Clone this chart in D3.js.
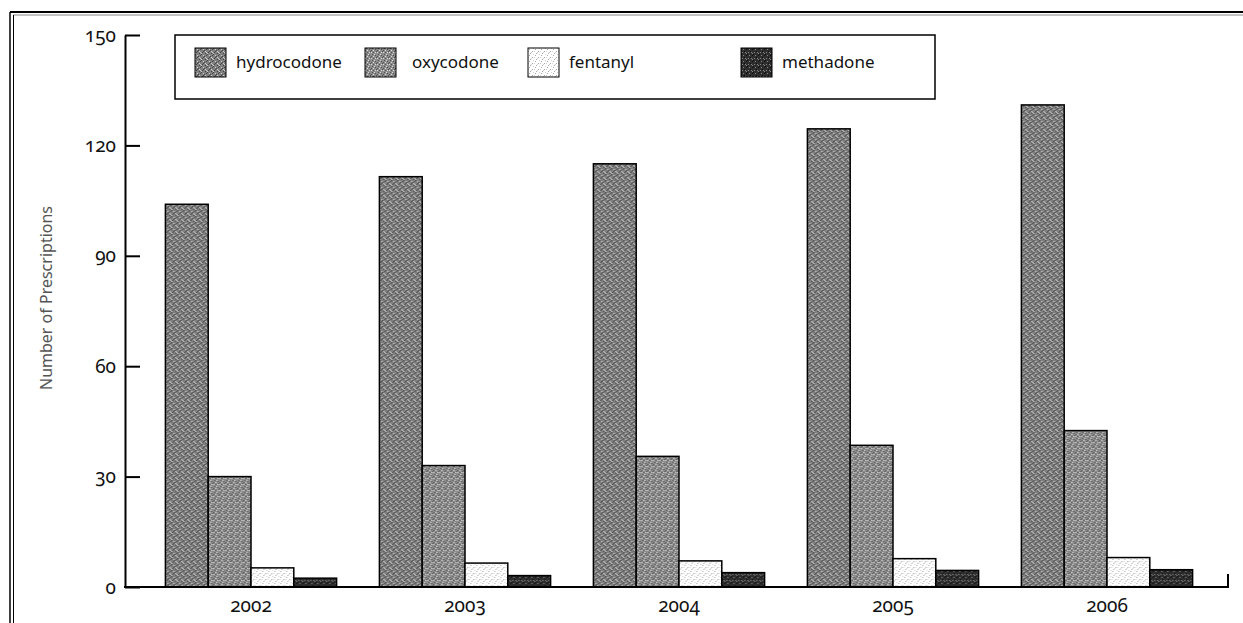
<!DOCTYPE html>
<html>
<head>
<meta charset="utf-8">
<script src="https://cdn.jsdelivr.net/npm/d3@7"></script>
<style>
  body { margin: 0; background: #fff; }
  svg text { font-family: "Noto Sans", "Open Sans", sans-serif; font-variant-numeric: oldstyle-nums; }
</style>
</head>
<body>
<svg id="chart" width="1243" height="623"></svg>
<script>
// Opioid prescriptions by year
const years = ["2002", "2003", "2004", "2005", "2006"];
const drugs = ["hydrocodone", "oxycodone", "fentanyl", "methadone"];
const hydrocodone = [104, 111.5, 115, 124.5, 131];
const oxycodone = [30, 33, 35.5, 38.5, 42.5];
const fentanyl = [5.2, 6.5, 7.1, 7.7, 8];
const methadone = [2.4, 3.1, 3.9, 4.5, 4.7];
const yTicks = [0, 30, 60, 90, 120, 150];
const yTitle = "Number of Prescriptions";

const series = { hydrocodone, oxycodone, fentanyl, methadone };

const svg = d3.select("#chart");

// Halftone-like fills, one tile per drug
const defs = svg.append("defs");
const tiles = {
  hydrocodone: { base: "#808080", specks: [["#444", [[0,0],[3,2],[1,4],[5,1],[4,5],[2,3]]], ["#d0d0d0", [[2,1],[4,3],[0,5],[5,4]]]] },
  oxycodone:   { base: "#8c8c8c", specks: [["#505050", [[1,0],[4,1],[2,4],[5,3],[0,2]]], ["#dcdcdc", [[3,0],[0,4],[4,4],[2,2]]]] },
  fentanyl:    { base: "#ffffff", specks: [["#a8a8a8", [[1,1],[4,3],[2,5]]], ["#d0d0d0", [[5,0],[0,3],[3,4]]]] },
  methadone:   { base: "#2e2e2e", specks: [["#0e0e0e", [[0,0],[3,3],[5,1]]], ["#858585", [[2,1],[4,4],[1,4],[5,5]]]] }
};
Object.entries(tiles).forEach(([name, t]) => {
  const p = defs.append("pattern")
    .attr("id", "fill-" + name)
    .attr("patternUnits", "userSpaceOnUse")
    .attr("width", 6).attr("height", 6);
  p.append("rect").attr("width", 6).attr("height", 6).attr("fill", t.base);
  t.specks.forEach(([color, pts]) => {
    p.selectAll(null).data(pts).enter().append("rect")
      .attr("x", d => d[0]).attr("y", d => d[1])
      .attr("width", 1).attr("height", 1).attr("fill", color);
  });
});

// Frame lines along the top and left edge
const frame = svg.append("g");
frame.append("line").attr("x1", 10).attr("x2", 1243).attr("y1", 12).attr("y2", 12)
  .attr("stroke", "#000").attr("stroke-width", 2);
frame.append("line").attr("x1", 13).attr("x2", 1243).attr("y1", 15).attr("y2", 15)
  .attr("stroke", "#888").attr("stroke-width", 1);
frame.append("line").attr("x1", 10).attr("x2", 10).attr("y1", 12).attr("y2", 623)
  .attr("stroke", "#000").attr("stroke-width", 1.5);
frame.append("line").attr("x1", 13.5).attr("x2", 13.5).attr("y1", 15).attr("y2", 623)
  .attr("stroke", "#000").attr("stroke-width", 1);

// Scales
const y = d3.scaleLinear().domain([0, 150]).range([587, 35]);
const x0 = d3.scaleBand().domain(years).range([144, 1214]).paddingInner(0.2).paddingOuter(0.1);
const x1 = d3.scaleBand().domain(drugs).range([0, x0.bandwidth()]).padding(0);

// Bars
const groups = svg.append("g").selectAll("g")
  .data(years)
  .enter().append("g")
  .attr("transform", d => `translate(${x0(d)},0)`);

groups.selectAll("rect")
  .data((yr, i) => drugs.map(name => ({ name, value: series[name][i] })))
  .enter().append("rect")
  .attr("x", d => x1(d.name))
  .attr("y", d => y(d.value))
  .attr("width", x1.bandwidth())
  .attr("height", d => y(0) - y(d.value))
  .attr("fill", d => `url(#fill-${d.name})`)
  .attr("stroke", "#000")
  .attr("stroke-width", 1.5);

// Y axis with inward ticks
const yAxis = svg.append("g")
  .attr("transform", "translate(125,0)")
  .call(d3.axisLeft(y).tickValues(yTicks).tickSize(-15).tickSizeOuter(0).tickPadding(9));
yAxis.select(".domain").attr("stroke-width", 2);
yAxis.selectAll(".tick line").attr("stroke-width", 2);
yAxis.selectAll(".tick text").attr("font-size", 19).attr("fill", "#111");

// X axis baseline and year labels
svg.append("line").attr("x1", 124).attr("x2", 1228).attr("y1", y(0)).attr("y2", y(0))
  .attr("stroke", "#000").attr("stroke-width", 2);
svg.append("line").attr("x1", 1228).attr("x2", 1228).attr("y1", y(0) - 13).attr("y2", y(0) + 1)
  .attr("stroke", "#000").attr("stroke-width", 2);

const xAxis = svg.append("g")
  .attr("transform", `translate(0,${y(0)})`)
  .call(d3.axisBottom(x0).tickSize(0).tickPadding(12));
xAxis.select(".domain").remove();
xAxis.selectAll(".tick text").attr("font-size", 19).attr("fill", "#111");

// Axis title
svg.append("text")
  .attr("transform", "translate(48,298) rotate(-90)")
  .attr("text-anchor", "middle")
  .attr("dominant-baseline", "middle")
  .attr("font-size", 16)
  .attr("fill", "#555")
  .text(yTitle);

// Legend
const legend = svg.append("g");
legend.append("rect")
  .attr("x", 175).attr("y", 35).attr("width", 760).attr("height", 64)
  .attr("fill", "#fff").attr("stroke", "#000").attr("stroke-width", 1.5);

const legendX = [195, 365, 528, 741];
const item = legend.selectAll("g.item")
  .data(drugs)
  .enter().append("g")
  .attr("class", "item")
  .attr("transform", (d, i) => `translate(${legendX[i]},48)`);
item.append("rect")
  .attr("width", 31).attr("height", 29)
  .attr("fill", d => `url(#fill-${d})`)
  .attr("stroke", "#000").attr("stroke-width", 1);
item.append("text")
  .attr("x", (d, i) => i === 1 ? 47 : 41)
  .attr("y", 15)
  .attr("dominant-baseline", "middle")
  .attr("font-size", 17)
  .attr("fill", "#111")
  .text(d => d);
</script>
</body>
</html>
